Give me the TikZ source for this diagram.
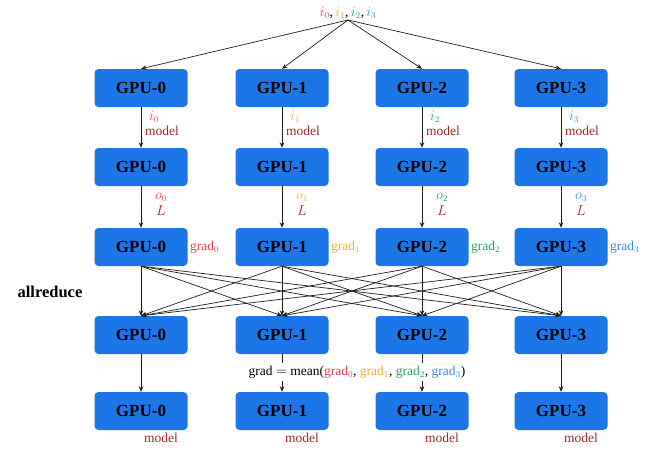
\documentclass[tikz,border=0pt]{standalone}
\usepackage{fontspec}
\setmainfont{Liberation Serif}
\usepackage{amsmath}
\usetikzlibrary{arrows.meta, positioning}
\definecolor{gpublue}{RGB}{28, 118, 232}
\definecolor{gradred}{RGB}{232, 64, 78}
\definecolor{gradorange}{RGB}{240, 176, 48}
\definecolor{gradgreen}{RGB}{40, 166, 96}
\definecolor{gradblue}{RGB}{58, 140, 224}
\definecolor{modelred}{RGB}{160, 40, 40}
\definecolor{linegray}{RGB}{30, 30, 30}

\tikzset{
    gpubox/.style={fill=gpublue, rounded corners=4pt, minimum width=93pt, minimum height=38pt,
        font=\fontsize{17}{19}\selectfont\bfseries},
    flow/.style={-{Stealth[length=5.5pt,width=4.5pt]}, linegray, line width=0.7pt},
    lbl/.style={font=\fontsize{13.5}{15}\selectfont, inner sep=1pt}
}

\begin{document}
\begin{tikzpicture}[x=1pt, y=-1pt]
    \useasboundingbox (0,0) rectangle (671,455);

    % GPU rows
    \foreach \c/\x in {0/141, 1/282, 2/422, 3/561} {
        \node[gpubox] (a\c) at (\x,88)  {GPU-\c};
        \node[gpubox] (b\c) at (\x,167) {GPU-\c};
        \node[gpubox] (c\c) at (\x,247) {GPU-\c};
        \node[gpubox] (d\c) at (\x,335) {GPU-\c};
        \node[gpubox] (e\c) at (\x,411) {GPU-\c};
    }

    % input split
    \node[lbl] (inputs) at (348,13)
        {$\color{gradred}i_0$,\,$\color{gradorange}i_1$,\,$\color{gradgreen}i_2$,\,$\color{gradblue}i_3$};
    \foreach \c in {0,...,3}
        \draw[flow] (inputs.south) -- (a\c.north);

    % forward / backward
    \foreach \c/\x/\col in {0/141/gradred, 1/282/gradorange, 2/422/gradgreen, 3/561/gradblue} {
        \draw[flow] (a\c) -- (b\c);
        \draw[flow] (b\c) -- (c\c);
        \node[lbl, text=\col] (in\c) at (\x+13,117) {$i_\c$};
        \node[lbl, text=modelred] (m\c) at (\x+21,131) {model};
        \node[lbl, text=\col] (o\c) at (\x+20,197) {$o_\c$};
        \node[lbl, text=modelred] (l\c) at (\x+20,211) {$L$};
        \node[lbl, text=\col, anchor=west] (g\c) at (\x+48,247) {grad$_\c$};
        \node[lbl, text=modelred] (mm\c) at (\x+20,438) {model};
    }

    % allreduce
    \foreach \i in {0,...,3}
        \foreach \j in {0,...,3}
            \draw[flow] (c\i.south) -- (d\j.north);
    \node[font=\fontsize{16.5}{18}\selectfont\bfseries] (allred) at (50,292) {allreduce};

    % update
    \foreach \c in {0,...,3}
        \draw[flow] (d\c) -- (e\c);
    \node[lbl, fill=white, inner sep=3pt] (mean) at (357,372)
        {grad $=$ mean(\textcolor{gradred}{grad$_0$}, \textcolor{gradorange}{grad$_1$}, \textcolor{gradgreen}{grad$_2$}, \textcolor{gradblue}{grad$_3$})};
\end{tikzpicture}
\end{document}
